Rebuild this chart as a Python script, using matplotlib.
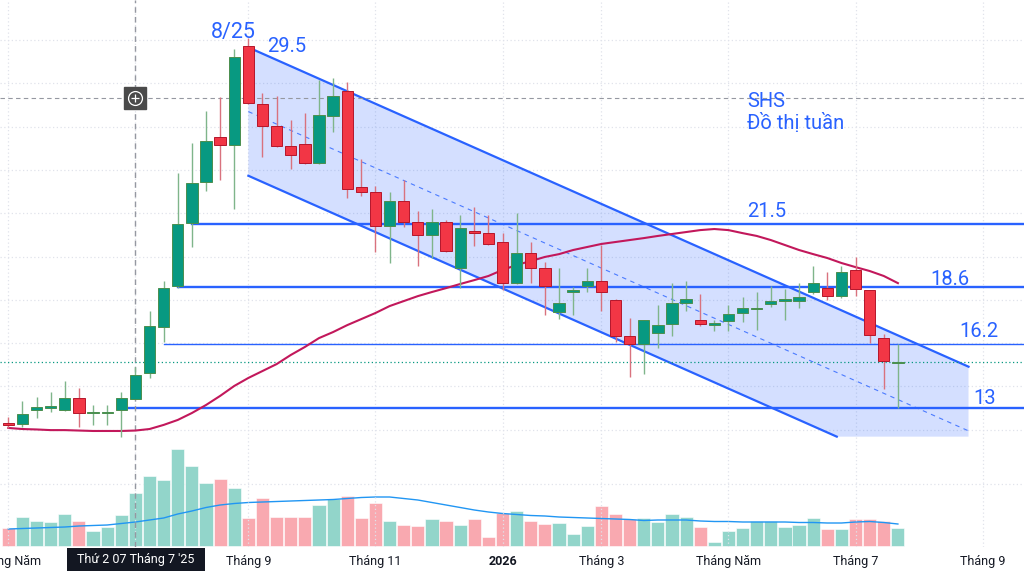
import numpy as np
import matplotlib
matplotlib.use("Agg")
import matplotlib.pyplot as plt
from matplotlib.patches import Rectangle, Polygon
from matplotlib.transforms import blended_transform_factory

plt.rcParams['font.family'] = ['Roboto', 'DejaVu Sans']

# weekly candles of SHS, week 0 = Mon 05/05/2025 (Tet week skipped)
opens = [12.32, 12.25, 12.92, 13.02, 12.91, 13.45, 12.76, 12.76, 12.91, 13.43,
         14.63, 16.76, 18.65, 21.53, 23.43, 25.52, 25.14, 29.74, 27.03, 26.01,
         25.10, 25.21, 24.30, 26.50, 27.64, 23.22, 22.99, 21.41, 22.56, 21.58,
         20.99, 21.58, 19.45, 21.19, 21.07, 20.68, 18.76, 20.17, 19.48, 17.45,
         18.35, 18.64, 18.87, 17.99, 16.33, 15.96, 16.45, 16.87, 17.84, 17.05,
         16.85, 17.03, 17.38, 17.56, 17.79, 17.96, 17.96, 18.35, 18.53, 18.17,
         19.38, 18.45, 16.22, 15.07]
highs = [12.60, 13.32, 13.52, 13.75, 14.25, 13.94, 13.14, 13.14, 13.75, 14.88,
         17.48, 18.88, 23.84, 25.23, 26.72, 27.38, 29.57, 30.08, 27.54, 27.43,
         26.30, 26.63, 28.15, 28.23, 28.05, 24.50, 23.25, 22.99, 23.53, 22.10,
         22.18, 21.68, 21.92, 22.30, 21.92, 21.09, 21.99, 20.68, 19.76, 19.48,
         18.60, 19.48, 20.53, 18.04, 17.17, 17.05, 17.76, 18.79, 18.87, 18.25,
         17.07, 17.76, 18.14, 18.35, 18.65, 18.50, 18.79, 19.56, 19.27, 19.56,
         19.99, 18.45, 16.42, 15.96]
lows = [12.08, 12.14, 12.53, 12.83, 12.88, 12.11, 12.22, 12.22, 11.65, 13.40,
        14.37, 16.06, 18.54, 20.45, 23.02, 23.53, 22.19, 27.05, 24.61, 25.04,
        24.04, 24.28, 24.28, 25.74, 22.69, 22.81, 20.19, 19.68, 21.38, 19.57,
        19.92, 20.19, 18.53, 20.48, 20.54, 18.45, 18.74, 18.79, 17.30, 17.10,
        17.30, 18.37, 17.50, 16.06, 14.45, 14.56, 15.79, 16.34, 17.50, 16.79,
        16.57, 16.57, 16.99, 16.60, 17.68, 17.07, 17.61, 18.27, 18.00, 18.07,
        18.17, 15.99, 13.87, 12.99]
closes = [12.23, 12.72, 13.05, 13.05, 13.45, 12.76, 12.82, 12.82, 13.45, 14.53,
          16.78, 18.54, 21.50, 23.41, 25.33, 25.14, 29.23, 27.08, 26.03, 25.12,
          24.69, 24.30, 26.52, 27.43, 23.10, 22.99, 21.41, 22.56, 21.58, 20.99,
          21.58, 20.27, 21.30, 21.10, 20.56, 18.76, 20.17, 19.48, 18.65, 17.87,
          18.45, 18.87, 18.36, 16.34, 15.96, 17.05, 16.83, 17.87, 18.04, 16.87,
          16.87, 17.33, 17.63, 17.63, 17.96, 17.98, 18.14, 18.76, 18.17, 19.27,
          18.48, 16.37, 15.17, 15.13]
ma_price = [12.08, 12.03, 12.01, 11.98, 11.98, 11.96, 11.94, 11.94, 11.94, 11.96,
            12.03, 12.22, 12.45, 12.77, 13.14, 13.56, 14.02, 14.39, 14.71, 15.03,
            15.45, 15.82, 16.23, 16.51, 16.83, 17.11, 17.39, 17.71, 17.94, 18.17,
            18.36, 18.54, 18.73, 18.91, 19.10, 19.38, 19.61, 19.79, 19.98, 20.11,
            20.30, 20.44, 20.58, 20.67, 20.76, 20.85, 20.95, 21.04, 21.13, 21.22,
            21.27, 21.22, 21.08, 20.95, 20.76, 20.53, 20.30, 20.11, 19.93, 19.70,
            19.51, 19.33, 19.10, 18.77]
volume = [1.77, 2.90, 2.53, 2.43, 3.23, 2.53, 1.53, 1.90, 3.13, 5.27,
          7.00, 6.60, 9.67, 8.00, 6.27, 6.67, 5.80, 2.77, 4.80, 2.90,
          2.90, 2.90, 4.10, 4.67, 4.97, 2.83, 4.33, 2.47, 2.10, 2.03,
          2.67, 2.50, 2.10, 2.67, 0.87, 3.27, 3.53, 2.47, 2.20, 2.30,
          1.20, 2.00, 4.00, 3.23, 2.67, 2.77, 2.37, 3.23, 2.90, 1.90,
          0.40, 1.53, 1.80, 2.50, 2.50, 1.93, 2.13, 2.77, 1.67, 1.73,
          2.67, 2.67, 2.53, 1.77]
vol_ma = [1.70, 1.75, 1.80, 1.85, 1.90, 2.00, 2.05, 2.10, 2.25, 2.40,
          2.60, 2.80, 3.20, 3.50, 3.85, 4.10, 4.25, 4.35, 4.40, 4.45,
          4.50, 4.55, 4.60, 4.65, 4.75, 4.85, 4.90, 4.90, 4.75, 4.60,
          4.35, 4.10, 3.85, 3.60, 3.40, 3.25, 3.15, 3.05, 3.00, 2.90,
          2.85, 2.80, 2.75, 2.70, 2.65, 2.55, 2.60, 2.60, 2.60, 2.50,
          2.45, 2.45, 2.40, 2.40, 2.40, 2.40, 2.35, 2.35, 2.30, 2.30,
          2.40, 2.45, 2.35, 2.20]

# support / resistance levels: value, label, start week
levels = [21.5, 18.58, 15.98, 12.99]
level_labels = ["21.5", "18.6", "16.2", "13"]
level_start = [13, 12, 11, 8.4]
level_width = [1.7, 1.7, 1.0, 1.7]

# descending channel
ch_x0, ch_x1 = 17, 68
ch_top0, ch_top1 = 29.66, 14.91
ch_width = 5.93
ch_low_end = 58.67

tick_pos = [0, 17, 26, 35, 42, 51, 60, 69]
tick_labels = ["Tháng Năm", "Tháng 9", "Tháng 11", "2026", "Tháng 3",
               "Tháng Năm", "Tháng 7", "Tháng 9"]
cross_week = 9
cross_price = 27.32
cross_label = "Thứ 2 07 Tháng 7 '25"

BLUE = '#2962ff'
GREEN = '#089981'
RED = '#f23645'

x = np.arange(len(opens))
o = np.array(opens); c = np.array(closes)
h = np.array(highs); l = np.array(lows)
up = c >= o

fig = plt.figure(figsize=(10.24, 5.71), dpi=100)
rect = [0, 24 / 571, 1, 547 / 571]
axv = fig.add_axes(rect)
ax = fig.add_axes(rect)
ax.set_facecolor('none')
for a in (ax, axv):
    for s in a.spines.values():
        s.set_visible(False)

xlim = (-0.59, 71.93)

# volume
vcol = ['#92d5ca' if u else '#f9a9b0' for u in up]
axv.axhline(6.2, color='#e0e3eb', lw=0.9, ls=(0, (1, 2)), zorder=0)
axv.bar(x, volume, width=0.93, color=vcol, edgecolor='white', linewidth=0.4)
axv.plot(x, vol_ma, color='#2196f3', lw=1.0)
axv.set_xlim(*xlim)
axv.set_ylim(-0.1, 54.6)
axv.set_xticks([]); axv.set_yticks([])

# grid
for t in tick_pos + [cross_week]:
    ax.axvline(t, color='#e0e3eb', lw=0.9, ls=(0, (1, 2)), zorder=0)
for g in range(12, 32, 2):
    ax.axhline(g, color='#e0e3eb', lw=0.9, ls=(0, (1, 2)), zorder=0)

# channel
xs = np.array([ch_x0, ch_x1])
top = np.array([ch_top0, ch_top1])
slope = (ch_top1 - ch_top0) / (ch_x1 - ch_x0)
low_end_val = ch_top0 - ch_width + slope * (ch_low_end - ch_x0)
poly = Polygon([(ch_x0, ch_top0), (ch_x1, ch_top1), (ch_x1, low_end_val),
                (ch_low_end, low_end_val), (ch_x0, ch_top0 - ch_width)],
               closed=True, facecolor=BLUE, alpha=0.2, edgecolor='none', zorder=1)
ax.add_patch(poly)
ax.plot(xs, top, color=BLUE, lw=1.6, zorder=2)
ax.plot([ch_x0, ch_low_end], [ch_top0 - ch_width, low_end_val], color=BLUE, lw=1.6, zorder=2)
ax.plot(xs, top - ch_width / 2, color=BLUE, lw=0.8, ls=(0, (4, 4)), alpha=0.8, zorder=2)

# levels
for lv, st, lw in zip(levels, level_start, level_width):
    ax.plot([st, xlim[1]], [lv, lv], color=BLUE, lw=lw, zorder=2)

# moving average
ax.plot(x, ma_price, color='#c2185b', lw=1.5, zorder=3)

# crosshair and last price
ax.axvline(cross_week, color='#9598a1', lw=1.0, ls=(0, (4, 3)), zorder=2)
ax.axhline(cross_price, color='#9598a1', lw=0.8, ls=(0, (4, 3)), zorder=2)
ax.axhline(closes[-1], color=GREEN, lw=0.9, ls=(0, (1, 2)), zorder=2)

# candles
wick_col = np.where(up, '#7fb58a', '#d9727e')
ax.vlines(x, l, h, colors=wick_col, lw=1.0, zorder=4)
body_lo = np.minimum(o, c)
body_h = np.maximum(np.abs(c - o), 0.06)
ax.bar(x, body_h, bottom=body_lo, width=0.8,
       color=np.where(up, GREEN, RED),
       edgecolor=np.where(up, '#4b8f4e', '#b5162b'), linewidth=0.7, zorder=5)

# crosshair button
ax.plot(cross_week, cross_price, marker='s', ms=16.5, color='#4a4a4a', zorder=6)
ax.plot(cross_week, cross_price, marker='o', ms=10, mfc='none', mec='white', mew=0.9, zorder=7)
ax.plot(cross_week, cross_price, marker='+', ms=6, mec='white', mew=0.9, zorder=7)

# annotations
ax.text(14.33, 30.08, "8/25", color=BLUE, fontsize=15.5, va='baseline', zorder=8)
ax.text(18.3, 29.46, "29.5", color=BLUE, fontsize=14.5, va='baseline', zorder=8)
ax.text(52.3, 26.89, "SHS", color=BLUE, fontsize=14.5, va='baseline', zorder=8)
ax.text(52.3, 25.87, "Đồ thị tuần", color=BLUE, fontsize=14.5, va='baseline', zorder=8)
label_pos = [(52.3, 21.81), (65.3, 18.68), (67.35, 16.27), (68.34, 13.19)]
for (tx, ty), txt in zip(label_pos, level_labels):
    ax.text(tx, ty, txt, color=BLUE, fontsize=14.5, va='baseline', zorder=8)

ax.set_xlim(*xlim)
ax.set_ylim(6.58, 31.85)
ax.set_yticks([])
ax.set_xticks(tick_pos)
ax.set_xticklabels(tick_labels, fontsize=9, color='#131722')
ax.tick_params(axis='x', length=0, pad=6)
for lab in ax.get_xticklabels():
    if lab.get_text() == "2026":
        lab.set_fontweight('bold')

# crosshair date label
tr = blended_transform_factory(ax.transData, ax.transAxes)
ax.add_patch(Rectangle((4.16, -0.0455), 9.77, 0.0437, transform=tr,
                       facecolor='#131722', edgecolor='none', clip_on=False, zorder=9))
ax.text(cross_week, -0.0237, cross_label, transform=tr, color='white', fontsize=9,
        ha='center', va='center', clip_on=False, zorder=10)

fig.savefig("out.png", dpi=100)
